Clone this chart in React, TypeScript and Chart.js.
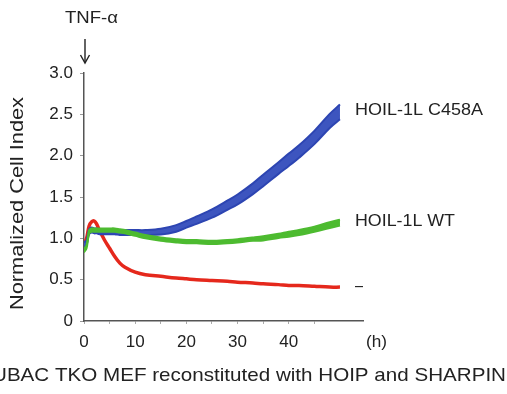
import React, { useEffect, useRef } from "react";
import { Chart, registerables } from "chart.js";

Chart.register(...registerables);

const hours = [0, 0.5, 1, 1.5, 2, 2.5, 3, 4, 5, 6, 7, 8, 10, 12, 15, 18, 20, 22, 25, 28, 30, 33, 35, 38, 40, 42, 45, 48, 50];
const mockValues = [0.93, 1.0, 1.15, 1.2, 1.21, 1.17, 1.1, 0.98, 0.88, 0.78, 0.7, 0.65, 0.59, 0.56, 0.54, 0.52, 0.51, 0.5, 0.49, 0.48, 0.47, 0.46, 0.45, 0.44, 0.43, 0.43, 0.42, 0.41, 0.41];
const wtValues = [0.85, 0.9, 1.08, 1.1, 1.1, 1.1, 1.1, 1.1, 1.1, 1.1, 1.09, 1.08, 1.05, 1.02, 0.99, 0.97, 0.96, 0.96, 0.95, 0.96, 0.97, 0.99, 1.0, 1.03, 1.05, 1.07, 1.11, 1.16, 1.19];
const c458aValues = [0.92, 0.95, 1.08, 1.1, 1.09, 1.09, 1.08, 1.08, 1.08, 1.08, 1.07, 1.07, 1.07, 1.07, 1.08, 1.12, 1.17, 1.22, 1.3, 1.4, 1.47, 1.6, 1.7, 1.85, 1.95, 2.05, 2.22, 2.42, 2.53];
const c458aErr = [0.03, 0.03, 0.03, 0.03, 0.03, 0.03, 0.03, 0.03, 0.03, 0.03, 0.03, 0.03, 0.03, 0.03, 0.035, 0.04, 0.04, 0.045, 0.05, 0.055, 0.06, 0.065, 0.07, 0.07, 0.075, 0.075, 0.08, 0.085, 0.09];
const wtErr = [0.02, 0.02, 0.02, 0.02, 0.02, 0.02, 0.02, 0.02, 0.02, 0.02, 0.02, 0.02, 0.02, 0.02, 0.02, 0.02, 0.02, 0.02, 0.02, 0.02, 0.02, 0.02, 0.025, 0.025, 0.03, 0.03, 0.03, 0.035, 0.035];
const xTickValues = [0, 5, 10, 15, 20, 25, 30, 35, 40, 45];
const yTickValues = [0, 0.5, 1.0, 1.5, 2.0, 2.5, 3.0];
const seriesLabels = ["HOIL-1L C458A", "HOIL-1L WT", "–"];
const yTitle = "Normalized Cell Index";
const stimulus = "TNF-α";
const xUnit = "(h)";
const caption = "UBAC TKO MEF reconstituted with HOIP and SHARPIN";

const FONT = "'Liberation Sans', Arial, Helvetica, sans-serif";
const TEXT = "#222";

const pts = (vals: number[], off: number[] | null = null, sign = 0) =>
  hours.map((h, i) => ({ x: h, y: vals[i] + (off ? sign * off[i] : 0) }));

// draw text with a given font size, stretched along its direction to a target width
function fitText(ctx: any, text: string, x: number, y: number, size: number, width: number, rot = 0) {
  ctx.save();
  ctx.font = `${size}px ${FONT}`;
  ctx.textAlign = "left";
  ctx.textBaseline = "middle";
  const w = ctx.measureText(text).width;
  ctx.translate(x, y);
  if (rot) ctx.rotate(rot);
  ctx.scale(width / w, 1);
  ctx.fillText(text, 0, 0);
  ctx.restore();
}

const annot = {
  id: "annot",
  afterDraw(chart: any) {
    const ctx = chart.ctx;
    const xs = chart.scales.x;
    ctx.save();
    ctx.fillStyle = TEXT;
    ctx.strokeStyle = TEXT;
    // stimulus
    fitText(ctx, stimulus, 65, 18, 17, 53);
    const ax = xs.getPixelForValue(0) + 1;
    ctx.lineWidth = 1.4;
    ctx.beginPath();
    ctx.moveTo(ax, 39);
    ctx.lineTo(ax, 62);
    ctx.stroke();
    ctx.beginPath();
    ctx.moveTo(ax - 4.5, 55);
    ctx.lineTo(ax, 63);
    ctx.lineTo(ax + 4.5, 55);
    ctx.stroke();
    // series labels
    fitText(ctx, seriesLabels[0], 355, 110, 17, 128);
    fitText(ctx, seriesLabels[1], 355, 221, 17, 100);
    fitText(ctx, seriesLabels[2], 355, 286, 17, 8);
    // unit
    fitText(ctx, xUnit, 366, 342, 17, 21);
    // y title
    fitText(ctx, yTitle, 18, 310, 18, 213, -Math.PI / 2);
    // caption
    fitText(ctx, caption, -8, 376, 19, 514);
    ctx.restore();
  },
};

export default function App() {
  const ref = useRef<HTMLCanvasElement>(null);
  useEffect(() => {
    const blue = "#2d45b2";
    const green = "#4dbb30";
    const red = "#e5281c";
    const chart = new Chart(ref.current!, {
      type: "line",
      data: {
        datasets: [
          { data: pts(wtValues, wtErr, 1), borderColor: green, borderWidth: 2, pointRadius: 0, fill: false },
          { data: pts(wtValues, wtErr, -1), borderColor: green, borderWidth: 2, pointRadius: 0, fill: "-1", backgroundColor: green },
          { data: pts(c458aValues, c458aErr, 1), borderColor: blue, borderWidth: 2, pointRadius: 0, fill: false },
          { data: pts(c458aValues, c458aErr, -1), borderColor: blue, borderWidth: 2, pointRadius: 0, fill: "-1", backgroundColor: "#3d55bf" },
          { data: pts(c458aValues, c458aErr, 0.4), borderColor: "#7486d4", borderWidth: 1, pointRadius: 0, fill: false },
          { data: pts(c458aValues, c458aErr, -0.4), borderColor: "#7486d4", borderWidth: 1, pointRadius: 0, fill: false },
          { data: pts(mockValues), borderColor: red, borderWidth: 3.5, pointRadius: 0, fill: false },
        ],
      },
      options: {
        animation: false,
        responsive: false,
        tension: 0.35,
        layout: { padding: { left: 0, top: 73, right: 144, bottom: 43 } },
        plugins: { legend: { display: false }, tooltip: { enabled: false } },
        scales: {
          x: {
            type: "linear",
            min: 0,
            max: 54.5,
            afterBuildTicks: (s: any) => {
              s.ticks = xTickValues.map((v) => ({ value: v }));
            },
            afterFit: (s: any) => {
              s.height = 30;
            },
            ticks: {
              autoSkip: false,
              maxRotation: 0,
              padding: 8,
              color: TEXT,
              font: { family: FONT, size: 17 },
              callback: (v: any) => (Number(v) % 10 === 0 ? String(v) : ""),
            },
            grid: { drawOnChartArea: false, drawTicks: true, tickLength: 3, color: "#aaa" },
            border: { color: "#555", width: 1.5 },
          },
          y: {
            min: 0,
            max: 3,
            afterBuildTicks: (s: any) => {
              s.ticks = yTickValues.map((v) => ({ value: v }));
            },
            afterFit: (s: any) => {
              s.width = 84;
            },
            ticks: {
              padding: 7,
              color: TEXT,
              font: { family: FONT, size: 17 },
              callback: (v: any) => (Number(v) === 0 ? "0" : Number(v).toFixed(1)),
            },
            grid: { drawOnChartArea: false, drawTicks: true, tickLength: 4, color: "#999" },
            border: { color: "#555", width: 1.5 },
          },
        },
      } as any,
      plugins: [annot],
    });
    return () => chart.destroy();
  }, []);
  return (
    <canvas
      ref={ref}
      width={507}
      height={394}
      style={{ position: "fixed", left: 0, top: 0, width: 507, height: 394, background: "#fff" }}
    />
  );
}
